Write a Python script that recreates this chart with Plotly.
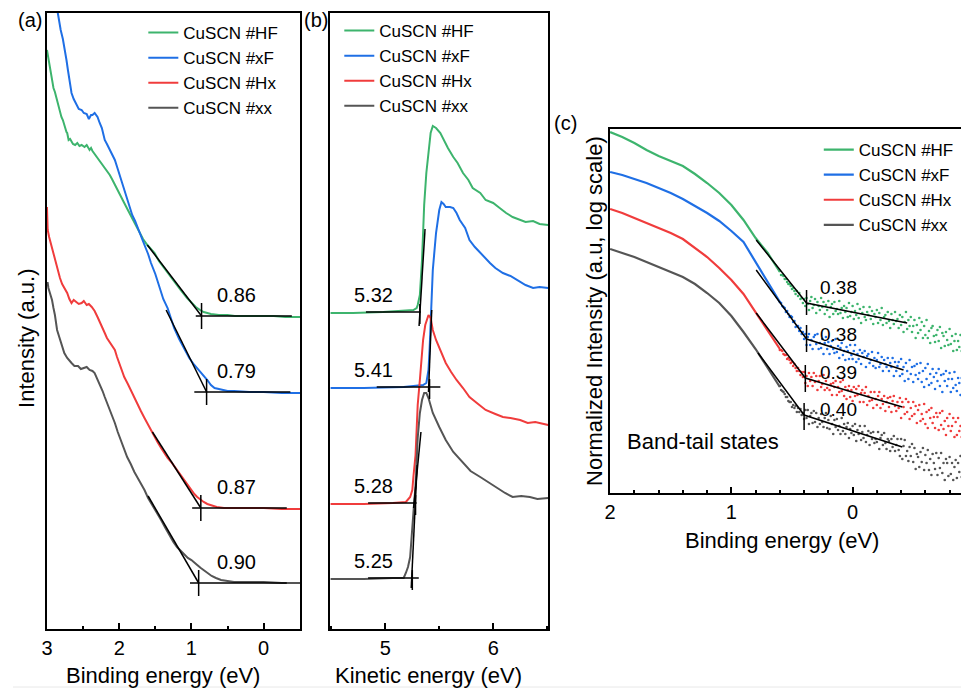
import plotly.graph_objects as go

FONT = "Liberation Sans, Arial, sans-serif"
C_HF = "#3DB46D"
C_XF = "#1F6FE5"
C_HX = "#F03C3C"
C_XX = "#555555"
NAMES = ["CuSCN #HF", "CuSCN #xF", "CuSCN #Hx", "CuSCN #xx"]

# ---------------- Panel (a): valence band, binding energy (eV) vs intensity (a.u.)
a_hf_e = [3.00, 2.98, 2.97, 2.95, 2.93, 2.91, 2.89, 2.87, 2.86, 2.84, 2.82, 2.80, 2.78, 2.76, 2.75, 2.73, 2.72, 2.70, 2.68, 2.66,
          2.64, 2.61, 2.58, 2.55, 2.52, 2.48, 2.45, 2.41, 2.39, 2.37, 2.34, 2.31, 2.28, 2.26, 2.23, 2.20, 2.17, 2.13, 2.10, 2.06,
          2.03, 2.00, 1.96, 1.93, 1.88, 1.83, 1.78, 1.72, 1.67, 1.61, 1.56, 1.51, 1.45, 1.38, 1.31, 1.24, 1.15, 1.06, 1.00, 0.94,
          0.88, 0.83, 0.78, 0.73, 0.62, 0.50, 0.40, 0.28, 0.15, 0.00, -0.14, -0.30, -0.51]
a_hf_i = [579, 570, 564, 556, 549, 541, 537, 531, 529, 522, 519, 512, 509, 503, 501, 497, 496, 489, 490, 487,
          485, 484, 486, 483, 484, 482, 484, 479, 481, 478, 475, 472, 470, 467, 465, 462, 459, 454, 450, 444,
          440, 436, 430, 426, 419, 412, 404, 397, 390, 384, 380, 376, 368, 361, 354, 347, 339, 331, 326, 322,
          319, 317, 316, 315, 314, 314, 313, 313, 313, 313, 313, 312, 312]

a_xf_e = [2.90, 2.88, 2.85, 2.83, 2.81, 2.78, 2.75, 2.73, 2.71, 2.69, 2.66, 2.63, 2.59, 2.56, 2.52, 2.49, 2.45, 2.42, 2.39, 2.37,
          2.34, 2.30, 2.27, 2.24, 2.22, 2.20, 2.17, 2.13, 2.10, 2.06, 2.02, 1.97, 1.93, 1.89, 1.85, 1.82, 1.78, 1.75, 1.70, 1.65,
          1.60, 1.56, 1.50, 1.45, 1.39, 1.33, 1.28, 1.24, 1.17, 1.10, 1.03, 0.96, 0.90, 0.83, 0.78, 0.73, 0.68, 0.62, 0.50, 0.41,
          0.20, 0.00, -0.25, -0.51]
a_xf_i = [630, 622, 616, 606, 599, 590, 579, 569, 559, 550, 536, 530, 524, 520, 519, 516, 515, 510, 514, 514,
          516, 512, 506, 501, 495, 489, 485, 479, 474, 469, 460, 449, 440, 429, 421, 414, 408, 402, 393, 384,
          375, 366, 355, 344, 330, 321, 309, 301, 290, 280, 271, 264, 259, 254, 249, 244, 241, 240, 238, 238,
          237, 237, 236, 236]

a_hx_e = [3.00, 2.99, 2.97, 2.94, 2.91, 2.89, 2.86, 2.82, 2.79, 2.75, 2.72, 2.69, 2.66, 2.63, 2.59, 2.56, 2.52, 2.49, 2.45, 2.42,
          2.38, 2.34, 2.30, 2.25, 2.20, 2.17, 2.13, 2.10, 2.06, 2.03, 2.00, 1.97, 1.93, 1.88, 1.83, 1.79, 1.75, 1.70, 1.65, 1.60,
          1.56, 1.51, 1.47, 1.42, 1.38, 1.33, 1.28, 1.24, 1.20, 1.15, 1.10, 1.05, 1.00, 0.96, 0.92, 0.87, 0.83, 0.78, 0.73, 0.65,
          0.55, 0.41, 0.20, 0.00, -0.25, -0.51]
a_hx_i = [422, 399, 392, 384, 376, 369, 360, 351, 345, 340, 336, 330, 326, 329, 327, 325, 326, 328, 324, 325,
          322, 318, 312, 303, 296, 291, 287, 284, 279, 272, 266, 259, 252, 245, 237, 231, 226, 218, 211, 204,
          199, 193, 187, 181, 176, 171, 167, 163, 159, 153, 148, 143, 139, 135, 132, 129, 127, 125, 124, 122,
          121, 121, 121, 121, 120, 120]

a_xx_e = [3.00, 2.99, 2.98, 2.96, 2.93, 2.91, 2.89, 2.86, 2.84, 2.82, 2.79, 2.76, 2.72, 2.69, 2.66, 2.62, 2.57, 2.53, 2.48, 2.45,
          2.41, 2.37, 2.34, 2.30, 2.27, 2.23, 2.20, 2.16, 2.13, 2.09, 2.06, 2.02, 1.98, 1.94, 1.89, 1.84, 1.79, 1.72, 1.65, 1.60,
          1.54, 1.48, 1.42, 1.36, 1.31, 1.25, 1.20, 1.15, 1.10, 1.05, 1.00, 0.96, 0.92, 0.87, 0.83, 0.77, 0.72, 0.66, 0.59, 0.50,
          0.41, 0.20, 0.00, -0.25, -0.51]
a_xx_i = [346, 346, 341, 337, 329, 321, 314, 299, 294, 289, 282, 276, 271, 268, 266, 263, 263, 260, 261, 262,
          259, 258, 256, 250, 244, 238, 232, 225, 219, 212, 206, 197, 189, 180, 172, 165, 157, 148, 139, 131,
          124, 117, 109, 101, 94, 87, 82, 78, 74, 71, 69, 66, 64, 61, 59, 56, 53, 51, 49, 48,
          47, 47, 47, 46, 46]

# onset values (eV) and linear-extrapolation lines for panel (a)
a_onsets = [0.86, 0.79, 0.87, 0.90]
a_base_i = [313, 237, 121, 46]
a_slope_start_e = [1.61, 1.35, 1.54, 1.60]
a_slope_start_i = [384, 319, 197, 133]
a_base_end_e = [-0.39, -0.37, -0.32, -0.32]
a_base_start_e = [0.94, 0.96, 0.99, 1.02]

# ---------------- Panel (b): secondary electron cutoff, kinetic energy (eV)
b_hf_e = [4.49, 4.70, 4.98, 5.17, 5.26, 5.29, 5.30, 5.32, 5.33, 5.34, 5.35, 5.36, 5.38, 5.40, 5.42, 5.44, 5.47, 5.51, 5.54, 5.58,
          5.63, 5.67, 5.72, 5.77, 5.81, 5.88, 5.93, 6.00, 6.06, 6.12, 6.18, 6.25, 6.30, 6.37, 6.43, 6.51]
b_hf_i = [316, 316, 317, 318, 319, 321, 324, 334, 349, 369, 396, 424, 456, 479, 496, 503, 501, 496, 489, 481,
          472, 466, 456, 449, 441, 436, 429, 426, 421, 416, 412, 409, 407, 408, 405, 404]

b_xf_e = [4.49, 4.80, 5.17, 5.30, 5.35, 5.38, 5.40, 5.41, 5.42, 5.425, 5.44, 5.47, 5.50, 5.52, 5.54, 5.56, 5.60, 5.63, 5.66, 5.69,
          5.74, 5.78, 5.83, 5.88, 5.92, 5.97, 6.02, 6.09, 6.16, 6.25, 6.30, 6.37, 6.43, 6.51]
b_xf_i = [241, 241, 242, 243, 244, 246, 259, 279, 299, 319, 359, 396, 419, 427, 425, 422, 422, 421, 416, 409,
          401, 389, 382, 376, 371, 366, 361, 356, 353, 347, 344, 341, 342, 341]

b_hx_e = [4.49, 4.80, 5.07, 5.19, 5.23, 5.25, 5.26, 5.28, 5.29, 5.30, 5.32, 5.34, 5.35, 5.37, 5.40, 5.42, 5.44, 5.47, 5.52, 5.56,
          5.61, 5.66, 5.72, 5.78, 5.86, 5.93, 6.02, 6.09, 6.16, 6.25, 6.32, 6.39, 6.51]
b_hx_i = [125, 125, 126, 127, 132, 139, 152, 174, 199, 224, 249, 274, 289, 304, 314, 311, 299, 289, 277, 266,
          257, 249, 241, 232, 225, 219, 215, 212, 211, 209, 206, 207, 204]

b_xx_e = [4.49, 4.80, 5.07, 5.17, 5.19, 5.21, 5.23, 5.24, 5.26, 5.28, 5.29, 5.30, 5.32, 5.34, 5.36, 5.38, 5.40, 5.44, 5.50, 5.56,
          5.63, 5.72, 5.79, 5.88, 5.95, 6.02, 6.11, 6.18, 6.26, 6.34, 6.41, 6.51]
b_xx_i = [50, 50, 51, 51, 56, 62, 72, 89, 116, 144, 166, 191, 216, 229, 236, 236, 231, 216, 202, 189,
          177, 166, 158, 152, 147, 142, 136, 132, 133, 132, 130, 131]

b_cutoffs = [5.32, 5.41, 5.28, 5.25]
b_base_i = [317, 242, 126, 51]
b_base_start_e = [4.82, 4.92, 4.84, 4.84]
b_base_end_e = [5.33, 5.51, 5.29, 5.31]
b_steep_e0 = [5.313, 5.400, 5.262, 5.240]
b_steep_i0 = [303, 237, 121, 41]
b_steep_e1 = [5.368, 5.430, 5.330, 5.295]
b_steep_i1 = [400, 319, 197, 164]

# ---------------- Panel (c): log10 of normalized intensity vs binding energy (eV)
c_line_e = [2.00, 1.90, 1.80, 1.70, 1.60, 1.50, 1.40, 1.30, 1.20, 1.10, 1.00, 0.90, 0.80, 0.70, 0.60]
c_hf_line = [-0.03, -0.08, -0.14, -0.21, -0.27, -0.32, -0.37, -0.45, -0.54, -0.64, -0.76, -0.91, -1.09, -1.24, -1.43]
c_xf_line = [-0.43, -0.46, -0.50, -0.54, -0.59, -0.64, -0.70, -0.77, -0.84, -0.92, -1.02, -1.13, -1.33, -1.54, -1.73]
c_hx_line = [-0.80, -0.84, -0.89, -0.94, -0.99, -1.04, -1.10, -1.19, -1.28, -1.39, -1.51, -1.65, -1.83, -2.01, -2.20]
c_xx_line = [-1.20, -1.24, -1.28, -1.33, -1.38, -1.43, -1.48, -1.55, -1.64, -1.74, -1.87, -2.03, -2.20, -2.39, -2.58]

c_dot_e = [0.60, 0.59, 0.58, 0.57, 0.56, 0.55, 0.54, 0.53, 0.52, 0.51,
           0.50, 0.49, 0.48, 0.47, 0.46, 0.45, 0.44, 0.43, 0.42, 0.41,
           0.40, 0.39, 0.38, 0.37, 0.36, 0.35, 0.34, 0.33, 0.32, 0.31,
           0.30, 0.29, 0.28, 0.27, 0.26, 0.25, 0.24, 0.23, 0.22, 0.21,
           0.20, 0.19, 0.18, 0.17, 0.16, 0.15, 0.14, 0.13, 0.12, 0.11,
           0.10, 0.09, 0.08, 0.07, 0.06, 0.05, 0.04, 0.03, 0.02, 0.01,
           0.00, -0.01, -0.02, -0.03, -0.04, -0.05, -0.06, -0.07, -0.08, -0.09,
           -0.10, -0.11, -0.12, -0.13, -0.14, -0.15, -0.16, -0.17, -0.18, -0.19,
           -0.20, -0.21, -0.22, -0.23, -0.24, -0.25, -0.26, -0.27, -0.28, -0.29,
           -0.30, -0.31, -0.32, -0.33, -0.34, -0.35, -0.36, -0.37, -0.38, -0.39,
           -0.40, -0.41, -0.42, -0.43, -0.44, -0.45, -0.46, -0.47, -0.48, -0.49,
           -0.50, -0.51, -0.52, -0.53, -0.54, -0.55, -0.56, -0.57, -0.58, -0.59,
           -0.60, -0.61, -0.62, -0.63, -0.64, -0.65, -0.66, -0.67, -0.68, -0.69,
           -0.70, -0.71, -0.72, -0.73, -0.74, -0.75, -0.76, -0.77, -0.78, -0.79,
           -0.80, -0.81, -0.82, -0.83, -0.84, -0.85, -0.86, -0.87, -0.88, -0.89,
           -0.90, -0.91, -0.92, -0.93, -0.94, -0.95, -0.96]
c_hf_dot = [-1.42, -1.46, -1.46, -1.47, -1.50, -1.50, -1.53, -1.55, -1.55, -1.57,
            -1.60, -1.59, -1.62, -1.65, -1.62, -1.67, -1.64, -1.70, -1.69, -1.74,
            -1.70, -1.77, -1.69, -1.75, -1.81, -1.72, -1.68, -1.79, -1.76, -1.70,
            -1.84, -1.73, -1.77, -1.81, -1.69, -1.78, -1.73, -1.85, -1.76, -1.81,
            -1.72, -1.88, -1.78, -1.75, -1.85, -1.73, -1.82, -1.80, -1.85, -1.72,
            -1.84, -1.79, -1.89, -1.77, -1.83, -1.79, -1.88, -1.74, -1.87, -1.83,
            -1.77, -1.90, -1.82, -1.86, -1.75, -1.89, -1.80, -1.94, -1.84, -1.78,
            -1.88, -1.91, -1.83, -1.86, -1.78, -1.90, -1.82, -1.95, -1.85, -1.88,
            -1.81, -1.94, -1.84, -1.91, -1.79, -1.96, -1.88, -1.86, -1.94, -1.83,
            -1.92, -1.99, -1.85, -1.91, -1.95, -1.83, -1.92, -1.90, -1.99, -1.86,
            -1.96, -1.88, -2.03, -1.93, -1.83, -2.00, -1.91, -1.97, -1.88, -2.03,
            -1.97, -1.91, -2.09, -1.96, -2.04, -1.89, -2.01, -1.93, -2.09, -1.97,
            -2.06, -1.91, -2.09, -2.02, -2.14, -1.99, -1.97, -2.07, -2.13, -2.06,
            -2.01, -2.12, -1.98, -2.19, -2.04, -2.07, -2.17, -2.03, -2.11, -2.16,
            -2.00, -2.15, -2.07, -2.22, -2.12, -2.05, -2.21, -2.12, -2.18, -2.06,
            -2.22, -2.12, -2.28, -2.10, -2.20, -2.08, -2.24]
c_xf_dot = [-1.73, -1.74, -1.77, -1.78, -1.79, -1.83, -1.82, -1.85, -1.88, -1.87,
            -1.88, -1.93, -1.92, -1.98, -1.97, -1.97, -2.02, -1.99, -2.05, -2.03,
            -2.10, -2.05, -2.16, -2.08, -2.05, -2.16, -2.11, -2.20, -2.08, -2.06,
            -2.15, -2.05, -2.20, -2.14, -2.19, -2.10, -2.25, -2.14, -2.08, -2.20,
            -2.13, -2.25, -2.17, -2.12, -2.20, -2.24, -2.10, -2.23, -2.17, -2.29,
            -2.19, -2.14, -2.26, -2.22, -2.31, -2.18, -2.22, -2.30, -2.16, -2.26,
            -2.30, -2.22, -2.16, -2.33, -2.25, -2.30, -2.21, -2.35, -2.24, -2.28,
            -2.22, -2.38, -2.27, -2.25, -2.34, -2.31, -2.23, -2.37, -2.29, -2.39,
            -2.31, -2.24, -2.38, -2.35, -2.28, -2.42, -2.31, -2.35, -2.38, -2.29,
            -2.42, -2.34, -2.38, -2.29, -2.47, -2.33, -2.42, -2.37, -2.33, -2.47,
            -2.30, -2.45, -2.38, -2.52, -2.34, -2.42, -2.50, -2.31, -2.45, -2.38,
            -2.53, -2.37, -2.46, -2.35, -2.50, -2.44, -2.34, -2.53, -2.42, -2.58,
            -2.39, -2.50, -2.35, -2.56, -2.45, -2.54, -2.40, -2.48, -2.60, -2.44,
            -2.52, -2.40, -2.57, -2.46, -2.63, -2.45, -2.52, -2.42, -2.57, -2.50,
            -2.44, -2.63, -2.50, -2.59, -2.43, -2.56, -2.62, -2.49, -2.54, -2.66,
            -2.49, -2.60, -2.46, -2.64, -2.55, -2.48, -2.63]
c_hx_dot = [-2.21, -2.21, -2.22, -2.25, -2.26, -2.26, -2.30, -2.29, -2.31, -2.34,
            -2.33, -2.37, -2.35, -2.39, -2.42, -2.39, -2.42, -2.46, -2.43, -2.48,
            -2.43, -2.54, -2.47, -2.57, -2.44, -2.52, -2.48, -2.57, -2.44, -2.53,
            -2.47, -2.61, -2.52, -2.47, -2.58, -2.55, -2.46, -2.61, -2.52, -2.59,
            -2.48, -2.61, -2.55, -2.66, -2.54, -2.58, -2.52, -2.66, -2.58, -2.63,
            -2.53, -2.62, -2.51, -2.67, -2.58, -2.70, -2.61, -2.57, -2.68, -2.61,
            -2.72, -2.58, -2.67, -2.60, -2.66, -2.57, -2.73, -2.64, -2.61, -2.73,
            -2.64, -2.58, -2.76, -2.67, -2.72, -2.63, -2.71, -2.79, -2.63, -2.70,
            -2.76, -2.67, -2.63, -2.79, -2.70, -2.75, -2.67, -2.82, -2.73, -2.69,
            -2.78, -2.68, -2.83, -2.72, -2.67, -2.77, -2.82, -2.73, -2.79, -2.69,
            -2.89, -2.73, -2.78, -2.85, -2.70, -2.83, -2.73, -2.90, -2.79, -2.87,
            -2.73, -2.85, -2.77, -2.94, -2.81, -2.76, -2.92, -2.85, -2.90, -2.75,
            -2.95, -2.83, -2.99, -2.81, -2.89, -2.79, -2.94, -2.88, -2.99, -2.84,
            -2.88, -3.01, -2.84, -2.96, -2.82, -3.00, -2.92, -3.06, -2.89, -2.97,
            -2.85, -3.02, -2.97, -2.89, -3.08, -2.93, -3.06, -2.89, -3.02, -2.97,
            -3.08, -2.92, -3.04, -2.90, -3.08, -2.98, -3.14]
c_xx_dot = [-2.57, -2.61, -2.62, -2.63, -2.65, -2.68, -2.68, -2.72, -2.73, -2.73,
            -2.78, -2.76, -2.79, -2.77, -2.83, -2.79, -2.83, -2.80, -2.86, -2.84,
            -2.90, -2.81, -2.89, -2.81, -2.95, -2.87, -2.84, -2.94, -2.82, -2.93,
            -2.84, -2.98, -2.89, -2.95, -2.85, -2.93, -2.98, -2.89, -2.84, -2.99,
            -2.91, -3.00, -2.87, -2.95, -3.05, -2.91, -2.98, -2.90, -3.01, -2.97,
            -3.05, -2.89, -3.02, -2.95, -3.05, -2.98, -2.94, -3.09, -3.00, -3.04,
            -2.97, -3.06, -2.95, -3.12, -3.01, -3.05, -2.97, -3.11, -3.03, -3.09,
            -2.97, -3.13, -3.06, -3.02, -3.16, -3.04, -3.10, -3.03, -3.14, -3.10,
            -3.13, -3.03, -3.20, -3.09, -3.06, -3.16, -3.04, -3.14, -3.20, -3.10,
            -3.12, -3.22, -3.10, -3.18, -3.07, -3.22, -3.16, -3.10, -3.21, -3.27,
            -3.10, -3.30, -3.17, -3.11, -3.27, -3.22, -3.32, -3.18, -3.27, -3.15,
            -3.33, -3.19, -3.40, -3.25, -3.28, -3.38, -3.23, -3.33, -3.19, -3.41,
            -3.26, -3.34, -3.21, -3.41, -3.30, -3.46, -3.25, -3.34, -3.40, -3.24,
            -3.46, -3.29, -3.39, -3.24, -3.44, -3.34, -3.51, -3.30, -3.34, -3.47,
            -3.28, -3.45, -3.34, -3.51, -3.38, -3.31, -3.49, -3.34, -3.43, -3.27,
            -3.48, -3.37, -3.53, -3.34, -3.45, -3.29, -3.49]

c_tail_onsets = [0.38, 0.38, 0.39, 0.40]
c_kink_log = [-1.74, -2.10, -2.49, -2.86]
c_steep_e = [0.795, 0.795, 0.795, 0.78]
c_steep_log = [-1.11, -1.41, -1.84, -2.24]
c_flat_e = [-0.45, -0.42, -0.41, -0.41]
c_flat_log = [-1.94, -2.41, -2.78, -3.18]
c_tick_top = [-1.61, -1.96, -2.36, -2.74]
c_tick_bot = [-1.86, -2.23, -2.63, -3.01]
c_label_log = [-1.59, -2.06, -2.44, -2.81]

COLORS = [C_HF, C_XF, C_HX, C_XX]

fig = go.Figure()

# ----- panel (a)
for name, col, e, i in zip(NAMES, COLORS, [a_hf_e, a_xf_e, a_hx_e, a_xx_e], [a_hf_i, a_xf_i, a_hx_i, a_xx_i]):
    fig.add_trace(go.Scatter(x=e, y=i, mode="lines", name=name, line=dict(color=col, width=2),
                             xaxis="x", yaxis="y", legend="legend"))
for k in range(4):
    fig.add_trace(go.Scatter(x=[a_slope_start_e[k], a_onsets[k]], y=[a_slope_start_i[k], a_base_i[k]], mode="lines",
                             line=dict(color="black", width=1.5), showlegend=False, xaxis="x", yaxis="y"))
    fig.add_trace(go.Scatter(x=[a_base_start_e[k], a_base_end_e[k]], y=[a_base_i[k], a_base_i[k]], mode="lines",
                             line=dict(color="black", width=1.5), showlegend=False, xaxis="x", yaxis="y"))
    fig.add_trace(go.Scatter(x=[a_onsets[k], a_onsets[k]], y=[a_base_i[k] - 13, a_base_i[k] + 13], mode="lines",
                             line=dict(color="black", width=1.5), showlegend=False, xaxis="x", yaxis="y"))

# ----- panel (b)
for name, col, e, i in zip(NAMES, COLORS, [b_hf_e, b_xf_e, b_hx_e, b_xx_e], [b_hf_i, b_xf_i, b_hx_i, b_xx_i]):
    fig.add_trace(go.Scatter(x=e, y=i, mode="lines", name=name, line=dict(color=col, width=2),
                             xaxis="x2", yaxis="y2", legend="legend2"))
for k in range(4):
    fig.add_trace(go.Scatter(x=[b_base_start_e[k], b_base_end_e[k]], y=[b_base_i[k], b_base_i[k]], mode="lines",
                             line=dict(color="black", width=1.5), showlegend=False, xaxis="x2", yaxis="y2"))
    fig.add_trace(go.Scatter(x=[b_steep_e0[k], b_steep_e1[k]], y=[b_steep_i0[k], b_steep_i1[k]], mode="lines",
                             line=dict(color="black", width=1.5), showlegend=False, xaxis="x2", yaxis="y2"))
    fig.add_trace(go.Scatter(x=[b_cutoffs[k], b_cutoffs[k]], y=[b_base_i[k] - 12, b_base_i[k] + 8], mode="lines",
                             line=dict(color="black", width=1.5), showlegend=False, xaxis="x2", yaxis="y2"))

# ----- panel (c)
for name, col, ly, dy in zip(NAMES, COLORS, [c_hf_line, c_xf_line, c_hx_line, c_xx_line],
                             [c_hf_dot, c_xf_dot, c_hx_dot, c_xx_dot]):
    fig.add_trace(go.Scatter(x=c_line_e, y=[10 ** v for v in ly], mode="lines", name=name,
                             line=dict(color=col, width=2.2), xaxis="x3", yaxis="y3", legend="legend3"))
    fig.add_trace(go.Scatter(x=c_dot_e, y=[10 ** v for v in dy], mode="markers", name=name, showlegend=False,
                             marker=dict(color=col, size=2.6), xaxis="x3", yaxis="y3"))
for k in range(4):
    fig.add_trace(go.Scatter(x=[c_steep_e[k], c_tail_onsets[k], c_flat_e[k]],
                             y=[10 ** c_steep_log[k], 10 ** c_kink_log[k], 10 ** c_flat_log[k]], mode="lines",
                             line=dict(color="black", width=1.5), showlegend=False, xaxis="x3", yaxis="y3"))
    fig.add_trace(go.Scatter(x=[c_tail_onsets[k], c_tail_onsets[k]], y=[10 ** c_tick_top[k], 10 ** c_tick_bot[k]],
                             mode="lines", line=dict(color="black", width=1.5), showlegend=False, xaxis="x3", yaxis="y3"))

# the page is drawn 8 px in from the window's top-left corner
W, H, OFF = 961, 685, 8
def px(x):
    return (x - OFF) / W
def py(y):
    return 1 - (y - OFF) / H

def txt(size):
    return dict(size=size, color="black", family=FONT)

ann = []
for k in range(4):
    ann.append(dict(x=0.372, y=a_base_i[k] + 21, xref="x", yref="y", text=f"{a_onsets[k]:.2f}", showarrow=False,
                    xanchor="center", yanchor="middle", font=txt(20)))
    ann.append(dict(x=4.89, y=b_base_i[k] + 17, xref="x2", yref="y2", text=f"{b_cutoffs[k]:.2f}", showarrow=False,
                    xanchor="center", yanchor="middle", font=txt(20)))
    ann.append(dict(x=0.12, y=c_label_log[k], xref="x3", yref="y3", text=f"{c_tail_onsets[k]:.2f}", showarrow=False,
                    xanchor="center", yanchor="middle", font=txt(19)))
ann.append(dict(x=1.23, y=-3.13, xref="x3", yref="y3", text="Band-tail states", showarrow=False,
                xanchor="center", yanchor="middle", font=txt(22)))

# panel letters: top-aligned at the top of the page
for t, x in [("(a)", 25), ("(b)", 313)]:
    ann.append(dict(x=px(x), y=1.0, xref="paper", yref="paper", text=t, showarrow=False,
                    xanchor="center", yanchor="top", borderpad=0, font=txt(20)))
ann.append(dict(x=px(563), y=py(123), xref="paper", yref="paper", text="(c)", showarrow=False,
                xanchor="center", yanchor="middle", font=txt(20)))
for t, x, y, ang in [("Binding energy (eV)", 159, 675, 0), ("Kinetic energy (eV)", 426, 675, 0),
                     ("Binding energy (eV)", 781, 540, 0), ("Intensity (a.u.)", 21, 338, -90),
                     ("Normalized Intensity (a.u, log scale)", 593, 311, -90)]:
    ann.append(dict(x=px(x), y=py(y), xref="paper", yref="paper", text=t, showarrow=False, textangle=ang,
                    xanchor="center", yanchor="middle", font=txt(22)))

xa = dict(showline=True, linewidth=2, linecolor="black", mirror=True, showgrid=False, zeroline=False,
          ticks="inside", ticklen=6, tickwidth=2, tickcolor="black", dtick=1, tick0=0, tickfont=txt(20))
ya = dict(showline=True, linewidth=2, linecolor="black", mirror=True, showgrid=False, zeroline=False,
          ticks="", showticklabels=False)
minor = dict(ticks="inside", ticklen=3, tickwidth=2, tickcolor="black")

leg = dict(font=txt(17), bgcolor="rgba(0,0,0,0)", borderwidth=0, xanchor="left", yanchor="top", tracegroupgap=0)

fig.update_layout(
    width=W, height=H, autosize=False, margin=dict(l=0, r=0, t=0, b=0),
    paper_bgcolor="white", plot_bgcolor="white",
    font=dict(family=FONT, color="black"),
    xaxis=dict(xa, domain=[px(42), px(297)], range=[3.002, -0.51], anchor="y", minor=dict(minor, dtick=0.5)),
    yaxis=dict(ya, domain=[py(629), py(13)], range=[0, 616], anchor="x"),
    xaxis2=dict(xa, domain=[px(327), px(546)], range=[4.49, 6.51], anchor="y2", minor=dict(minor, dtick=0.5)),
    yaxis2=dict(ya, domain=[py(629), py(13)], range=[0, 616], anchor="x2"),
    xaxis3=dict(xa, domain=[px(608), 1.0], range=[2.002, -0.96], anchor="y3", minor=dict(minor, dtick=0.2)),
    yaxis3=dict(ya, type="log", mirror=False, domain=[py(493), py(129)], range=[-3.64, 0], anchor="x3"),
    legend=dict(leg, x=px(139), y=py(15)),
    legend2=dict(leg, x=px(336), y=py(13)),
    legend3=dict(leg, x=px(818), y=py(132)),
    annotations=ann,
    shapes=[dict(type="line", xref="paper", yref="paper", x0=0, x1=1, y0=py(687), y1=py(687),
                 line=dict(color="#e8e8e8", width=1))],
)

fig.write_html("out.html")
